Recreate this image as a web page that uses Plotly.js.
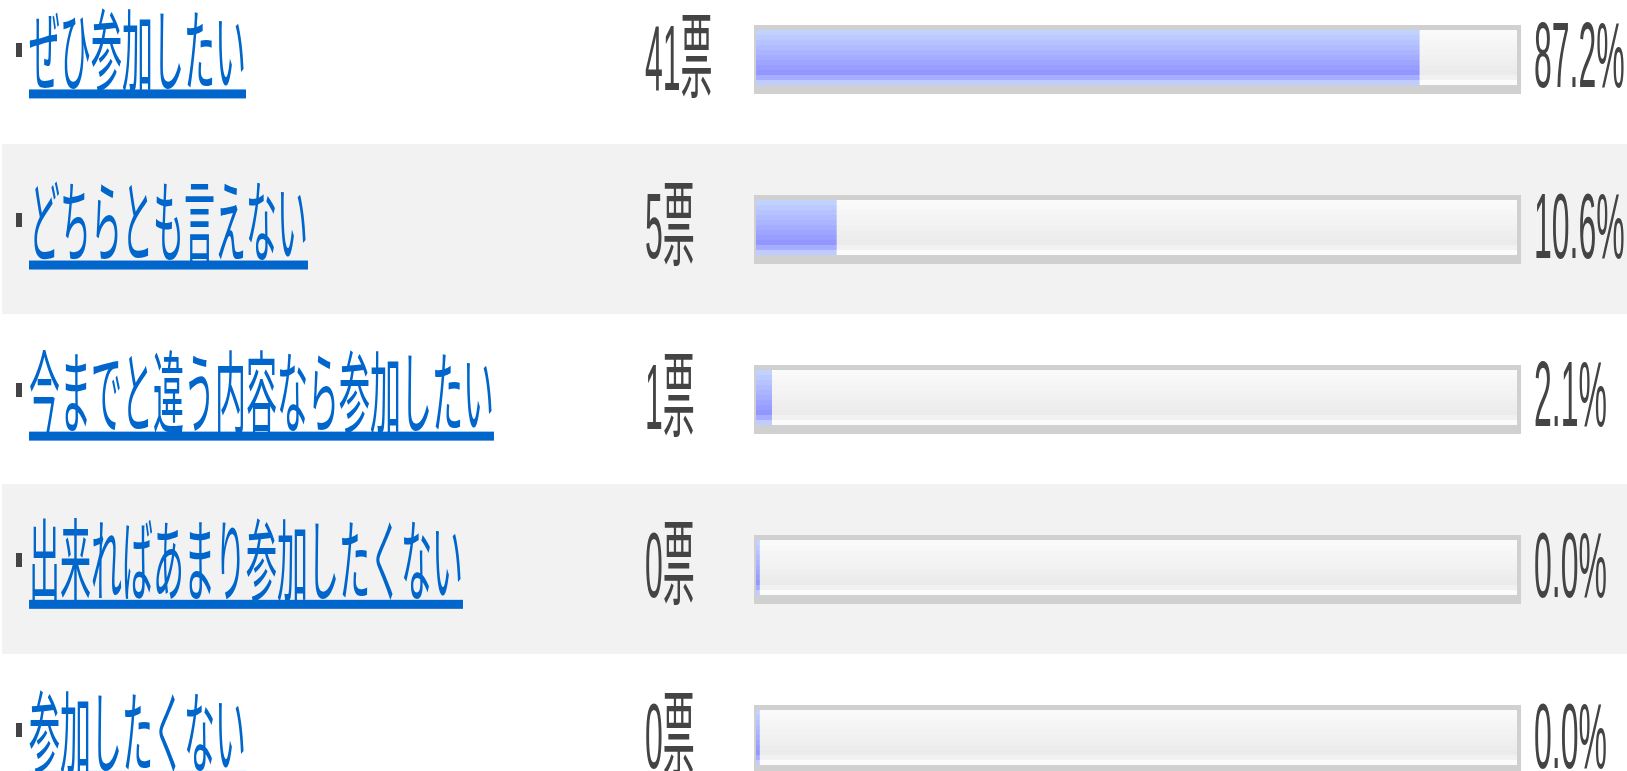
<!DOCTYPE html>
<html lang="ja"><head><meta charset="utf-8">
<script src="https://cdn.plot.ly/plotly-3.0.1.min.js"></script>
<style>
html,body{margin:0;padding:0;background:#fff;overflow:hidden;width:1627px;height:771px}
#chart{width:1627px;height:266px;transform:scaleY(2.9);transform-origin:0 0}
</style></head><body><div id="chart"></div>
<script>
// ---- data ----
const choices = ['ぜひ参加したい', 'どちらとも言えない', '今までと違う内容なら参加したい', '出来ればあまり参加したくない', '参加したくない'];
const votes = [41, 5, 1, 0, 0];
const percents = [87.2, 10.6, 2.1, 0.0, 0.0];
const voteUnit = '票';

// ---- geometry (styling only) ----
const W = 1627, H = 266, S = 2.9;      // plot drawn at height H, stretched vertically by S
const ROW = 170;                         // final px per row
const rows = choices.map((_, i) => i);
const PX_PER_PCT = 7.61, X0 = 756;
const xr = [-X0 / PX_PER_PCT, (W - X0) / PX_PER_PCT];
const yTop = -59 / ROW;
const yr = [yTop + H * S / ROW, yTop];
const u = px => px / ROW;
const FONT = '"Liberation Sans", "Noto Sans CJK JP", sans-serif';

function band(base, lengths, top, bottom, color) {
  return {
    type: 'bar', orientation: 'h', y: rows, x: lengths, base: base,
    offset: u(top), width: u(bottom - top),
    marker: { color: color, line: { width: 0 } }, hoverinfo: 'skip'
  };
}
function mix(a, b, t) {
  return 'rgb(' + a.map((v, k) => Math.round(v + (b[k] - v) * t)).join(',') + ')';
}

const traces = [];
// outer track (grey frame)
traces.push(band(-0.26, rows.map(() => 100.79), -34, 35, '#d0d0d0'));
// inner track bands
const STEPS = 9;
for (let k = 0; k < STEPS; k++) {
  traces.push(band(0, rows.map(() => 100), -29 + 5 * k, -29 + 5 * (k + 1),
    mix([250, 250, 250], [235, 235, 235], k / (STEPS - 1))));
}
traces.push(band(0, rows.map(() => 100), 16, 21, '#f1f1f1'));
traces.push(band(0, rows.map(() => 100), 21, 26, '#fbfbfb'));
// value fill bands + small start cap
function fillBands(lengths) {
  for (let k = 0; k < STEPS; k++) {
    traces.push(band(0, lengths, -29 + 5 * k, -29 + 5 * (k + 1),
      mix([194, 210, 255], [146, 150, 255], k / (STEPS - 1))));
  }
  traces.push(band(0, lengths, 16, 21, '#a7adff'));
  traces.push(band(0, lengths, 21, 26, '#c0cbff'));
}
fillBands(percents);
fillBands(rows.map(() => 0.5));

// row backgrounds & bullets
const shapes = [];
rows.forEach(i => {
  if (i % 2 === 1) {
    shapes.push({ type: 'rect', layer: 'below', xref: 'paper', yref: 'y',
      x0: 2 / W, x1: 1, y0: i - 0.5, y1: i + 0.5, fillcolor: '#f2f2f2', line: { width: 0 } });
  }
  shapes.push({ type: 'rect', xref: 'paper', yref: 'y',
    x0: 16 / W, x1: 22 / W, y0: i + u(-16), y1: i + u(-2), fillcolor: '#444444', line: { width: 0 } });
});

const annotations = [];
rows.forEach(i => {
  annotations.push({ xref: 'paper', yref: 'y', x: 27 / W, y: i, xanchor: 'left', yanchor: 'middle',
    yshift: 1.4, showarrow: false,
    text: '<span style="text-decoration:underline">' + choices[i] + '</span>',
    font: { family: FONT, size: 31, color: '#0066cc' } });
  annotations.push({ xref: 'paper', yref: 'y', x: 643 / W, y: i, xanchor: 'left', yanchor: 'middle',
    yshift: 0.75, showarrow: false, text: votes[i] + voteUnit,
    font: { family: FONT, size: 32, color: '#444444' } });
  annotations.push({ xref: 'paper', yref: 'y', x: 1532 / W, y: i, xanchor: 'left', yanchor: 'middle',
    yshift: 1.1, showarrow: false, text: percents[i].toFixed(1) + '%',
    font: { family: FONT, size: 32, color: '#444444' } });
});

const layout = {
  width: W, height: H, margin: { l: 0, r: 0, t: 0, b: 0 },
  paper_bgcolor: '#ffffff', plot_bgcolor: 'rgba(0,0,0,0)',
  barmode: 'overlay', showlegend: false,
  xaxis: { range: xr, visible: false, fixedrange: true },
  yaxis: { range: yr, visible: false, fixedrange: true },
  shapes: shapes, annotations: annotations
};
Plotly.newPlot('chart', traces, layout, { staticPlot: true, displayModeBar: false });
</script></body></html>
